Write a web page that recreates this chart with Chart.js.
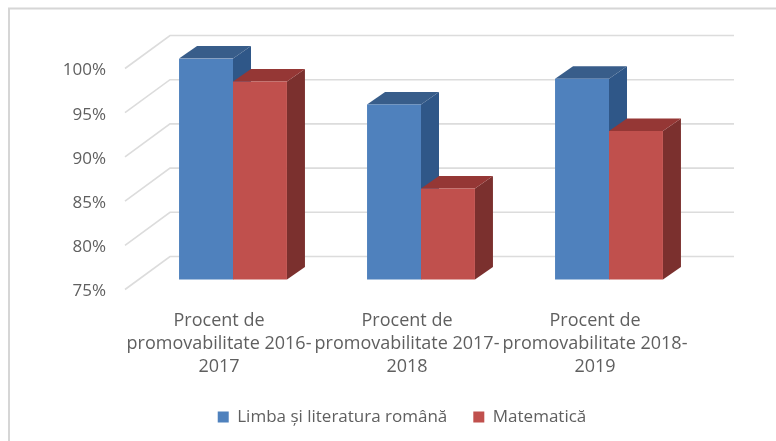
<!DOCTYPE html>
<html><head><meta charset="utf-8">
<style>html,body{margin:0;padding:0;background:#fff}canvas{display:block}</style>
<script src="https://cdn.jsdelivr.net/npm/chart.js@4"></script>
</head><body><canvas id="c" width="776" height="441"></canvas>
<script>
const categories = [
  ["Procent de","promovabilitate 2016-","2017"],
  ["Procent de","promovabilitate 2017-","2018"],
  ["Procent de","promovabilitate 2018-","2019"]
];
const limbaRomana = [100, 94.8, 97.7];
const matematica = [97.4, 85.3, 91.8];
const seriesNames = ["Limba și literatura română", "Matematică"];
const tickValues = [75, 80, 85, 90, 95, 100];

const frontColors = ["#4f81bd", "#c0504d"];
const topColors = ["#385d8a", "#953735"];
const sideColors = ["#2f5788", "#7b302e"];
const gridColor = "#dcdcdc";
const textColor = "#5f5f5f";
const fontFamily = "'Open Sans', sans-serif";
const depth = {x: 18, y: -12.5};
const wall = {x: 31, y: -23};
const floor = {x: -14, y: 10};

const scene = {
  id: "scene",
  beforeDraw(chart) {
    const c = chart.ctx;
    c.save();
    c.fillStyle = "#fff";
    c.fillRect(0, 0, chart.width, chart.height);
    c.strokeStyle = "#d6d6d6";
    c.lineWidth = 2;
    c.beginPath();
    c.moveTo(9, chart.height);
    c.lineTo(9, 8.5);
    c.lineTo(chart.width, 8.5);
    c.stroke();
    c.restore();
  },
  beforeDatasetsDraw(chart) {
    const c = chart.ctx, y = chart.scales.y, a = chart.chartArea;
    const bottom = y.getPixelForValue(y.min);
    c.save();
    c.strokeStyle = gridColor;
    c.lineWidth = 1.6;
    tickValues.forEach(v => {
      const p = y.getPixelForValue(v);
      c.beginPath();
      c.moveTo(a.left + floor.x, p + floor.y);
      c.lineTo(a.left + wall.x, p + wall.y);
      c.lineTo(a.right + wall.x, p + wall.y);
      c.stroke();
    });
    chart.data.datasets.forEach((ds, i) => {
      chart.getDatasetMeta(i).data.forEach(b => {
        const l = b.x - b.width / 2, r = b.x + b.width / 2, t = b.y;
        c.fillStyle = sideColors[i];
        c.beginPath();
        c.moveTo(r, t); c.lineTo(r + depth.x, t + depth.y);
        c.lineTo(r + depth.x, bottom + depth.y); c.lineTo(r, bottom);
        c.closePath(); c.fill();
        c.fillStyle = topColors[i];
        c.beginPath();
        c.moveTo(l, t); c.lineTo(l + depth.x, t + depth.y);
        c.lineTo(r + depth.x, t + depth.y); c.lineTo(r, t);
        c.closePath(); c.fill();
      });
    });
    c.restore();
  }
};

new Chart(document.getElementById("c"), {
  type: "bar",
  plugins: [scene],
  data: {
    labels: categories,
    datasets: [
      {label: seriesNames[0], data: limbaRomana, backgroundColor: frontColors[0]},
      {label: seriesNames[1], data: matematica, backgroundColor: frontColors[1]}
    ]
  },
  options: {
    responsive: false,
    animation: false,
    events: [],
    categoryPercentage: 0.574,
    barPercentage: 1,
    layout: {padding: {left: 28, right: 0, top: 58.5, bottom: 5.5}},
    scales: {
      x: {
        grid: {display: false},
        border: {display: false},
        afterFit(s) { s.height = 103; },
        ticks: {
          maxRotation: 0, minRotation: 0, autoSkip: false,
          padding: 22, labelOffset: -14, color: textColor,
          font: {family: fontFamily, size: 18, lineHeight: 23 / 18}
        }
      },
      y: {
        min: 75, max: 100,
        grid: {display: false, drawTicks: false},
        border: {display: false},
        afterFit(s) { s.width = 111; },
        afterBuildTicks(s) { s.ticks = tickValues.map(v => ({value: v})); },
        ticks: {
          padding: 33, labelOffset: 12, color: textColor,
          font: {family: fontFamily, size: 17},
          callback: v => v + "%"
        }
      },
      rightSpace: {
        axis: "y", position: "right", min: 75, max: 100,
        grid: {display: false, drawTicks: false},
        border: {display: false},
        ticks: {display: false},
        afterFit(s) { s.width = 73; }
      }
    },
    plugins: {
      title: {display: false},
      tooltip: {enabled: false},
      legend: {
        position: "bottom",
        labels: {
          boxWidth: 11, boxHeight: 11, padding: 26, color: textColor,
          font: {family: fontFamily, size: 17}
        }
      }
    }
  }
});
</script></body></html>
